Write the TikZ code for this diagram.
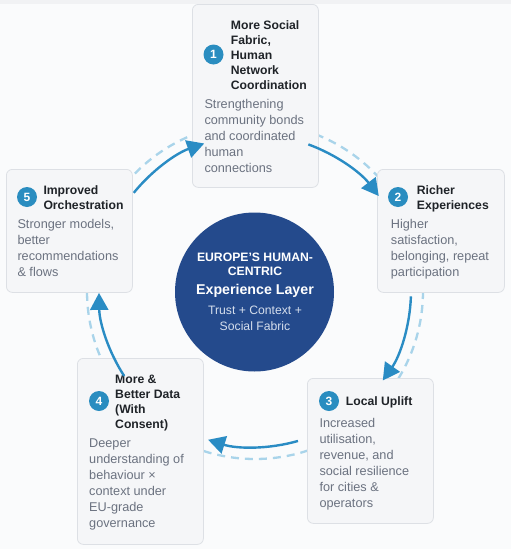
\documentclass[tikz,border=0pt]{standalone}
\usepackage{fontspec}
\setmainfont{Liberation Sans}
\usetikzlibrary{arrows.meta}
\definecolor{bgc}{HTML}{FAFBFC}
\definecolor{topband}{HTML}{F1F2F4}
\definecolor{boxfill}{HTML}{F5F6F8}
\definecolor{boxline}{HTML}{DDE0E5}
\definecolor{titlec}{HTML}{1F2328}
\definecolor{descc}{HTML}{6B7280}
\definecolor{flowc}{HTML}{2A8CC4}
\definecolor{ringc}{HTML}{A9D4EA}
\definecolor{badgec}{HTML}{2A8DC0}
\definecolor{hubc}{HTML}{244A8C}
\definecolor{hubsub}{HTML}{D5DEEC}
\tikzset{
  card/.style={draw=boxline, line width=0.8pt, fill=boxfill, rounded corners=6pt, anchor=north west, inner sep=0pt},
  badge/.style={circle, fill=badgec, text=white, inner sep=0pt, minimum size=20pt, font=\fontsize{12}{12}\selectfont\bfseries},
  ttl/.style={anchor=north west, inner sep=0pt, align=left, text=titlec, font=\fontsize{12.2}{15}\selectfont\bfseries},
  dsc/.style={anchor=north west, inner sep=0pt, align=left, text=descc, font=\fontsize{12.7}{16}\selectfont},
  flow/.style={draw=flowc, line width=2.4pt, -{Triangle[length=17pt,width=18pt]}},
  ring/.style={draw=ringc, line width=2.3pt, dash pattern=on 8pt off 6pt},
  hub/.style={circle, fill=hubc, minimum size=159pt, inner sep=0pt},
  hubtxt/.style={anchor=north, inner sep=0pt, align=center, text=white}
}
\begin{document}
\begin{tikzpicture}[x=1pt,y=-1pt]
\useasboundingbox (0,0) rectangle (511,549);
\fill[bgc] (0,0) rectangle (511,549);
\fill[topband] (0,0) rectangle (511,4);
\coordinate (C) at (255,291);
\draw[ring] (C) circle[radius=168];
% cards
\node[card, minimum width=126pt, minimum height=183pt] (b1) at (192,4) {};
\node[card, minimum width=127pt, minimum height=123pt] (b2) at (377,169) {};
\node[card, minimum width=126pt, minimum height=123pt] (b5) at (6,169) {};
\node[card, minimum width=126pt, minimum height=145pt] (b3) at (307,378) {};
\node[card, minimum width=126pt, minimum height=186pt] (b4) at (77,358) {};
% hub
\node[hub] (hub) at (254.5,292) {};
\node[hubtxt, font=\fontsize{12.2}{14.5}\selectfont\bfseries] (h1) at (255,252.3) {EUROPE'S HUMAN-\\CENTRIC};
\node[hubtxt, font=\fontsize{14.2}{16}\selectfont\bfseries] (h2) at (255,284) {Experience Layer};
\node[hubtxt, text=hubsub, font=\fontsize{12.2}{15.7}\selectfont] (h3) at (255,306) {Trust + Context +\\Social Fabric};
% card 1
\node[badge] (n1) at (213.5,54.5) {1};
\node[ttl] (t1) at (230.7,20.7) {More Social\\Fabric,\\Human\\Network\\Coordination};
\node[dsc] (d1) at (204.3,99) {Strengthening\\community bonds\\and coordinated\\human\\connections};
% card 2
\node[badge] (n2) at (398,197) {2};
\node[ttl] (t2) at (416.7,185) {Richer\\Experiences};
\node[dsc] (d2) at (390.7,219.3) {Higher\\satisfaction,\\belonging, repeat\\participation};
% card 5
\node[badge] (n5) at (27,197) {5};
\node[ttl] (t5) at (43.3,185) {Improved\\Orchestration};
\node[dsc] (d5) at (17.3,219) {Stronger models,\\better\\recommendations\\\& flows};
% card 3
\node[badge] (n3) at (329,401) {3};
\node[ttl] (t3) at (345.7,396) {Local Uplift};
\node[dsc] (d3) at (319.3,418.3) {Increased\\utilisation,\\revenue, and\\social resilience\\for cities \&\\operators};
% card 4
\node[badge] (n4) at (99,401) {4};
\node[ttl] (t4) at (115,375) {More \&\\Better Data\\(With\\Consent)};
\node[dsc] (d4) at (89,438.3) {Deeper\\understanding of\\behaviour ×\\context under\\EU-grade\\governance};
% flow arrows
\coordinate (s51) at ([shift={(-141:156)}]C);
\coordinate (s12) at ([shift={(-70:156)}]C);
\coordinate (s23) at ([shift={(2:156)}]C);
\coordinate (s34) at ([shift={(74:156)}]C);
\coordinate (s45) at ([shift={(147:156)}]C);
\draw[flow] (s51) arc[start angle=-141, end angle=-109, radius=156];
\draw[flow] (s12) arc[start angle=-70, end angle=-37.5, radius=156];
\draw[flow] (s23) arc[start angle=2, end angle=35, radius=156];
\draw[flow] (s34) arc[start angle=74, end angle=107.5, radius=156];
\draw[flow] (s45) arc[start angle=147, end angle=179.3, radius=156];
\end{tikzpicture}
\end{document}
